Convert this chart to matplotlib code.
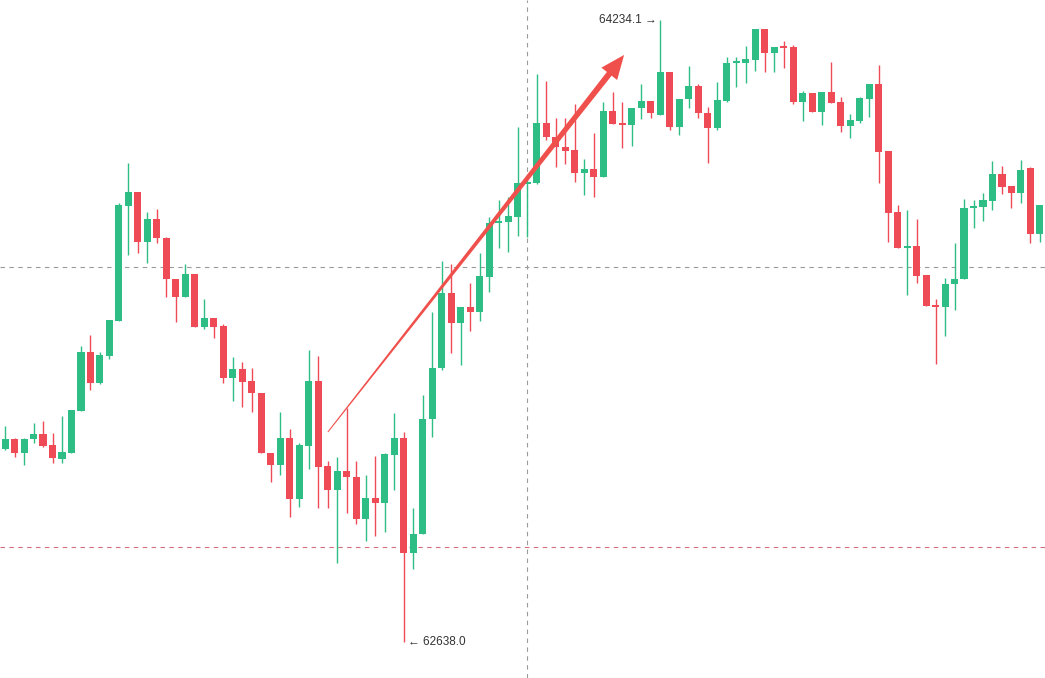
import numpy as np
import matplotlib.pyplot as plt
from matplotlib.patches import Polygon
from matplotlib.transforms import IdentityTransform

plt.rcParams['font.family'] = ['Liberation Sans', 'DejaVu Sans']

# OHLC data, one entry per candle
opens = [63132.9, 63158.5, 63122.6, 63158.5, 63171.4, 63143.1, 63107.2, 63122.6, 63230.4, 63381.8,
         63302.2, 63371.5, 63461.3, 63756.4, 63792.3, 63664.0, 63723.0, 63674.3, 63569.1, 63522.9,
         63581.9, 63445.9, 63469.0, 63448.5, 63315.0, 63338.1, 63307.4, 63276.6, 63122.6, 63091.8,
         63161.1, 63004.6, 63140.6, 63307.4, 63089.2, 63027.7, 63076.4, 63061.0, 62953.2, 63007.1,
         62994.3, 63117.5, 63161.1, 62866.0, 62914.8, 63209.8, 63340.7, 63533.2, 63456.2, 63497.2,
         63484.4, 63574.2, 63712.8, 63715.3, 63728.2, 63812.9, 63815.4, 63969.4, 63933.5, 63907.8,
         63900.1, 63841.1, 63851.3, 63830.8, 64000.2, 63969.4, 63964.2, 64007.9, 64025.8, 63989.9,
         64100.2, 63959.1, 64031.0, 64064.3, 63995.0, 63956.6, 64025.8, 64123.3, 64123.3, 64131.0,
         64210.6, 64149.0, 64167.0, 64164.4, 64023.3, 64046.4, 63997.6, 64048.9, 64023.3, 63961.7,
         63974.5, 64031.0, 64069.5, 63897.5, 63741.0, 63648.6, 63653.8, 63579.3, 63502.4, 63497.2,
         63556.3, 63569.1, 63751.3, 63753.8, 63769.2, 63838.5, 63807.7, 63789.8, 63853.9, 63684.6]
highs = [63191.9, 63161.1, 63161.1, 63199.6, 63204.7, 63173.9, 63217.5, 63232.9, 63397.2, 63425.4,
         63381.8, 63463.9, 63764.1, 63866.7, 63792.3, 63741.0, 63748.7, 63676.9, 63569.1, 63607.6,
         63581.9, 63517.8, 63469.0, 63453.6, 63368.9, 63356.1, 63340.7, 63276.6, 63122.6, 63227.8,
         63184.2, 63148.3, 63386.9, 63371.5, 63102.1, 63112.3, 63238.1, 63102.1, 63066.1, 63114.9,
         63122.6, 63225.2, 63176.5, 62981.5, 63271.4, 63484.4, 63615.3, 63607.6, 63497.2, 63558.8,
         63635.8, 63728.2, 63771.8, 63779.5, 63959.1, 63835.9, 64095.1, 64077.2, 63982.2, 63982.2,
         64018.1, 63877.0, 63943.7, 64023.3, 64048.9, 64023.3, 64007.9, 64069.5, 64025.8, 64234.1,
         64100.2, 64031.0, 64115.6, 64069.5, 64010.4, 64074.6, 64138.7, 64138.7, 64167.0, 64210.6,
         64210.6, 64164.4, 64179.8, 64169.5, 64051.5, 64046.4, 64048.9, 64125.9, 64036.1, 63992.5,
         64036.1, 64069.5, 64118.2, 63897.5, 63759.0, 63746.1, 63723.0, 63579.3, 63517.8, 63571.7,
         63661.5, 63774.4, 63771.8, 63789.8, 63871.9, 63859.0, 63807.7, 63874.4, 63856.5, 63759.0]
lows = [63130.3, 63112.3, 63091.8, 63148.3, 63138.0, 63096.9, 63096.9, 63122.6, 63230.4, 63284.3,
        63299.7, 63363.8, 63461.3, 63630.7, 63635.8, 63610.1, 63661.5, 63522.9, 63458.7, 63522.9,
        63445.9, 63440.8, 63417.7, 63302.2, 63256.0, 63240.6, 63227.8, 63122.6, 63048.2, 63066.1,
        62958.4, 62984.0, 63081.5, 62981.5, 62981.5, 62840.3, 62968.6, 62940.4, 62896.8, 62909.6,
        62919.9, 63027.7, 62638.0, 62824.9, 62914.8, 63163.7, 63335.6, 63379.2, 63348.4, 63435.7,
        63461.3, 63535.7, 63648.6, 63638.4, 63679.4, 63676.9, 63812.9, 63925.8, 63856.5, 63864.2,
        63818.0, 63784.6, 63779.5, 63830.8, 63966.8, 63905.2, 63910.4, 63979.6, 63982.2, 63989.9,
        63951.4, 63938.6, 64007.9, 63982.2, 63866.7, 63951.4, 64023.3, 64061.8, 64072.0, 64102.8,
        64100.2, 64100.2, 64110.5, 64018.1, 63974.5, 63997.6, 63964.2, 64020.7, 63946.3, 63930.9,
        63969.4, 63984.8, 63815.4, 63664.0, 63648.6, 63528.0, 63558.8, 63499.8, 63351.0, 63422.8,
        63489.5, 63569.1, 63700.0, 63717.9, 63746.1, 63787.2, 63751.3, 63764.1, 63661.5, 63664.0]
closes = [63158.5, 63122.6, 63158.5, 63171.4, 63140.6, 63109.8, 63125.2, 63232.9, 63381.8, 63302.2,
          63374.1, 63463.9, 63759.0, 63792.3, 63664.0, 63723.0, 63674.3, 63569.1, 63522.9, 63581.9,
          63445.9, 63469.0, 63445.9, 63315.0, 63338.1, 63304.8, 63276.6, 63122.6, 63091.8, 63161.1,
          63004.6, 63143.1, 63307.4, 63086.7, 63027.7, 63076.4, 63061.0, 62953.2, 63007.1, 62994.3,
          63120.0, 63161.1, 62866.0, 62914.8, 63209.8, 63340.7, 63533.2, 63456.2, 63497.2, 63484.4,
          63576.8, 63712.8, 63717.9, 63730.7, 63815.4, 63818.0, 63969.4, 63933.5, 63907.8, 63897.5,
          63841.1, 63851.3, 63830.8, 64000.2, 63966.8, 63964.2, 64007.9, 64025.8, 63995.0, 64100.2,
          63959.1, 64031.0, 64064.3, 63995.0, 63956.6, 64028.4, 64123.3, 64126.5, 64133.6, 64210.6,
          64149.0, 64164.4, 64161.8, 64023.3, 64046.4, 63997.6, 64048.9, 64020.7, 63961.7, 63977.1,
          64033.5, 64069.5, 63895.0, 63738.4, 63648.6, 63651.2, 63576.8, 63499.8, 63497.2, 63556.3,
          63569.1, 63751.3, 63753.8, 63771.8, 63838.5, 63805.2, 63789.8, 63848.8, 63684.6, 63759.0]

high_label = 64234.1
low_label = 62638.0
h_line_grey = 63600.0
h_line_red = 62881.0
v_line_idx = 55
arrow_from = (34.0, 63176.5)
arrow_to = (65.2, 64144.0)

green = '#2ebd85'
red = '#ee4b56'

fig = plt.figure(figsize=(10.45, 6.78), dpi=100)
ax = fig.add_axes([0, 0, 1, 1])
ax.set_xlim(-0.53, 109.53)
ax.set_ylim(62545.3, 64285.0)
ax.axis('off')

o = np.array(opens)
h = np.array(highs)
l = np.array(lows)
c = np.array(closes)
x = np.arange(len(o))
up = c >= o
cols = np.where(up, green, red)

# crosshair / level lines
ax.axhline(h_line_grey, color='#9a9a9a', lw=0.8, ls=(0, (4, 4)), zorder=1)
ax.axhline(h_line_red, color='#d0707a', lw=0.8, ls=(0, (4, 4)), zorder=1)
ax.axvline(v_line_idx, color='#9a9a9a', lw=0.8, ls=(0, (4, 4)), zorder=1)

ax.vlines(x, l, h, colors=cols, lw=1.0, zorder=2)
body = np.maximum(np.abs(c - o), 4.0)
ax.bar(x, body, bottom=np.minimum(o, c), width=0.74, color=cols, lw=0, zorder=3)

# max / min labels
ax.annotate('64234.1 \u2192', xy=(69, high_label), xytext=(-2.5, 0), textcoords='offset points',
            ha='right', va='center', fontsize=8.5, color='#333333')
ax.annotate('\u2190 62638.0', xy=(42, low_label), xytext=(3, 0), textcoords='offset points',
            ha='left', va='center', fontsize=8.5, color='#333333')

# tapered trend arrow, drawn in pixel space
fig.canvas.draw()
S = ax.transData.transform(arrow_from)
T = ax.transData.transform(arrow_to)
u = (T - S) / np.hypot(*(T - S))
n = np.array([-u[1], u[0]])
N = T - 24 * u
verts = [S + 0.5 * n, N + 3 * n, N + 10 * n, T, N - 10 * n, N - 3 * n, S - 0.5 * n]
ax.add_patch(Polygon(verts, closed=True, transform=IdentityTransform(),
                     facecolor='#f0504c', edgecolor='none', zorder=4))

fig.savefig('out.png', dpi=100)
